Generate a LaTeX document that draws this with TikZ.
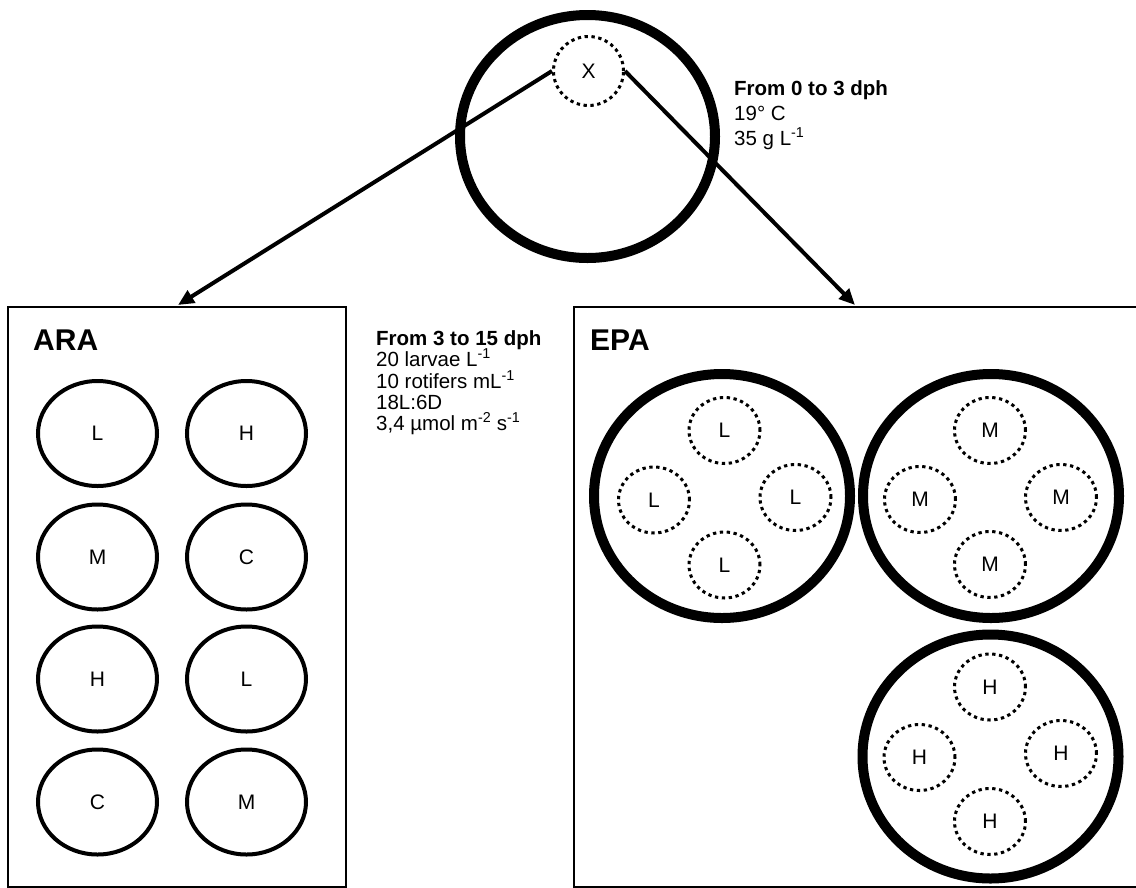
\documentclass[tikz,border=0pt]{standalone}
\usepackage{fontspec}
\setmainfont{Liberation Sans}
\usetikzlibrary{shapes.geometric,arrows.meta}

\begin{document}
\begin{tikzpicture}[x=1pt,y=-1pt,
  tank/.style={ellipse, draw, line width=10pt, inner sep=0pt,
    minimum width=256pt, minimum height=244pt},
  cup/.style={ellipse, draw, line width=3pt, dash pattern=on 3.3pt off 3.6pt,
    inner sep=0pt, minimum width=71pt, minimum height=66pt,
    font=\fontsize{21}{21}\selectfont},
  well/.style={ellipse, draw, line width=4pt, inner sep=0pt,
    minimum width=119pt, minimum height=105pt,
    font=\fontsize{21}{21}\selectfont},
  panel/.style={draw, line width=1.5pt, inner sep=0pt, anchor=north west},
  title/.style={anchor=base west, inner sep=0pt,
    font=\bfseries\fontsize{30}{30}\selectfont},
  info/.style={anchor=base west, inner sep=0pt,
    font=\fontsize{20.5}{20.5}\selectfont},
  link/.style={line width=4pt, -{Triangle[length=16pt,width=14pt]}}
]
\useasboundingbox (0,0) rectangle (1136,887);
\clip (0,0) rectangle (1136,887);

% incubation tank
\node[tank, minimum width=255pt, minimum height=243pt] (inc) at (587.5,136.5) {};
\node[cup, minimum width=70pt, minimum height=69pt] (x) at (588.5,71) {X};

\node[info] (i1) at (734,95) {\textbf{From 0 to 3 dph}};
\node[info] (i2) at (734,120) {19° C};
\node[info] (i3) at (734,145) {35 g L\textsuperscript{-1}};

% rearing conditions
\node[info] (r1) at (376,345) {\textbf{From 3 to 15 dph}};
\node[info] (r2) at (376,366.5) {20 larvae L\textsuperscript{-1}};
\node[info] (r3) at (376,388) {10 rotifers mL\textsuperscript{-1}};
\node[info] (r4) at (376,409) {18L:6D};
\node[info] (r5) at (376,430) {3,4 µmol m\textsuperscript{-2} s\textsuperscript{-1}};

% panels
\node[panel, minimum width=338pt, minimum height=580pt] (ara) at (7,306) {};
\node[panel, minimum width=570pt, minimum height=580pt] (epa) at (573,306) {};
\node[title] (araT) at (33,350) {ARA};
\node[title] (epaT) at (590,350) {EPA};

\coordinate (tipA) at (178,305);
\coordinate (tipE) at (855,305);
\draw[link] (x.west) -- (tipA);
\draw[link] (x.east) -- (tipE);

% ARA wells
\node[well] (a11) at (97.5,433.5) {L};
\node[well] (a12) at (246.5,433.5) {H};
\node[well] (a21) at (97.5,557) {M};
\node[well] (a22) at (246.5,557) {C};
\node[well] (a31) at (97.5,679) {H};
\node[well] (a32) at (246.5,679) {L};
\node[well] (a41) at (97.5,802) {C};
\node[well] (a42) at (246.5,802) {M};

% EPA tanks
\node[tank] (e1) at (722,496) {};
\node[cup] (e1t) at (724.5,430.5) {L};
\node[cup] (e1l) at (654,500) {L};
\node[cup] (e1r) at (795.5,497.5) {L};
\node[cup] (e1b) at (724.5,565) {L};

\node[tank] (e2) at (991,496) {};
\node[cup] (e2t) at (990,430.5) {M};
\node[cup] (e2l) at (920,499.5) {M};
\node[cup] (e2r) at (1061,497.5) {M};
\node[cup] (e2b) at (990,564.5) {M};

\node[tank] (e3) at (990.5,756.5) {};
\node[cup] (e3t) at (990,687) {H};
\node[cup] (e3l) at (919.5,757.5) {H};
\node[cup] (e3r) at (1061,753.5) {H};
\node[cup] (e3b) at (990,821.5) {H};
\end{tikzpicture}
\end{document}
